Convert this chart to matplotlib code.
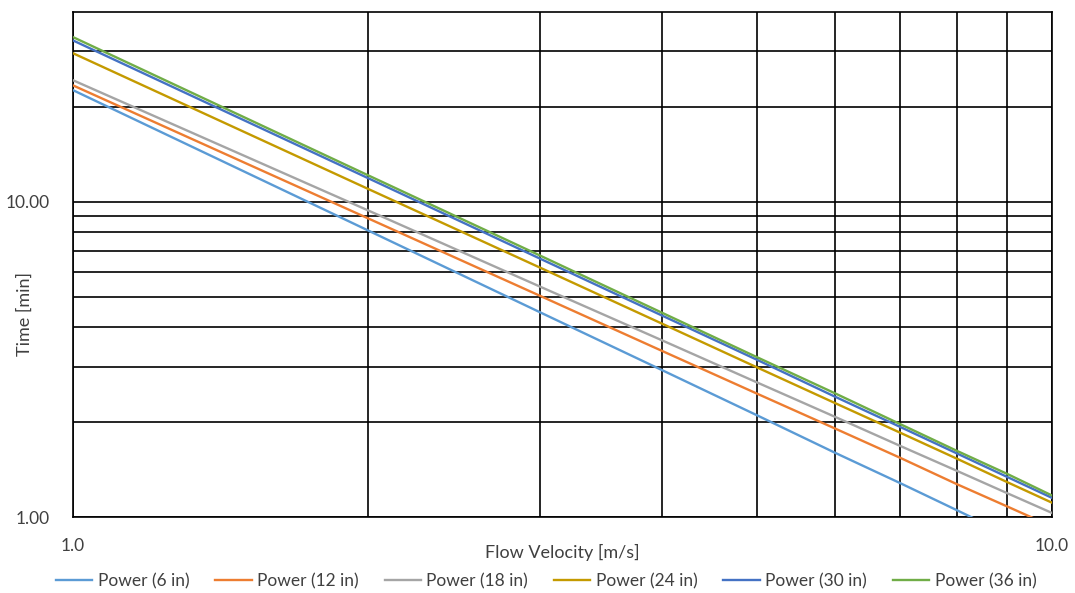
import matplotlib

matplotlib.use("Agg")
import matplotlib.pyplot as plt
from matplotlib.ticker import FixedLocator, FuncFormatter, NullFormatter

plt.rcParams["font.family"] = ["Lato", "DejaVu Sans"]

# flow velocity [m/s] sampled at the grid lines
velocity = [1, 2, 3, 4, 5, 6, 7, 8, 9, 10]

# time [min]
time_6in = [22.6, 8.12, 4.46, 2.92, 2.10, 1.60, 1.28, 1.05, 0.88, 0.753]
time_12in = [23.4, 8.87, 5.03, 3.36, 2.46, 1.91, 1.54, 1.27, 1.08, 0.933]
time_18in = [24.3, 9.40, 5.38, 3.63, 2.67, 2.08, 1.68, 1.40, 1.19, 1.03]
time_24in = [29.6, 11.0, 6.18, 4.10, 2.98, 2.30, 1.85, 1.53, 1.29, 1.11]
time_30in = [32.5, 11.9, 6.60, 4.35, 3.15, 2.41, 1.93, 1.59, 1.34, 1.15]
time_36in = [33.3, 12.15, 6.75, 4.44, 3.21, 2.47, 1.97, 1.62, 1.37, 1.17]

series = [
    ("Power (6 in)", time_6in, "#5B9BD5"),
    ("Power (12 in)", time_12in, "#ED7D31"),
    ("Power (18 in)", time_18in, "#A5A5A5"),
    ("Power (24 in)", time_24in, "#C49A00"),
    ("Power (30 in)", time_30in, "#4472C4"),
    ("Power (36 in)", time_36in, "#70AD47"),
]

fig = plt.figure(figsize=(10.75, 5.93), dpi=100)
ax = fig.add_axes([73 / 1075, 1 - 517 / 593, (1052 - 73) / 1075, (517 - 12) / 593])

for label, values, color in series:
    ax.plot(velocity, values, color=color, linewidth=1.7, label=label, zorder=3)

ax.set_xscale("log")
ax.set_yscale("log")
ax.set_xlim(1, 10)
ax.set_ylim(1, 40)

ax.xaxis.set_major_locator(FixedLocator([1, 10]))
ax.xaxis.set_minor_locator(FixedLocator(range(2, 10)))
ax.yaxis.set_major_locator(FixedLocator([1, 10]))
ax.yaxis.set_minor_locator(FixedLocator([2, 3, 4, 5, 6, 7, 8, 9, 20, 30]))
ax.xaxis.set_major_formatter(FuncFormatter(lambda v, _: f"{v:.1f}"))
ax.yaxis.set_major_formatter(FuncFormatter(lambda v, _: f"{v:.2f}"))
ax.xaxis.set_minor_formatter(NullFormatter())
ax.yaxis.set_minor_formatter(NullFormatter())

ax.grid(True, which="both", color="black", linewidth=1.2, zorder=1)
ax.tick_params(which="both", length=0, labelsize=12.5, colors="#404040")
ax.tick_params(axis="x", pad=15)
ax.tick_params(axis="y", pad=17)
for spine in ax.spines.values():
    spine.set_color("black")
    spine.set_linewidth(1.2)

ax.set_xlabel("Flow Velocity [m/s]", fontsize=13, color="#404040", labelpad=-7)
fig.text(25 / 1075, 1 - 314 / 593, "Time [min]", fontsize=13, color="#404040",
         rotation=90, ha="center", va="center")

fig.legend(
    loc="lower center",
    bbox_to_anchor=(0.508, -0.02),
    ncol=6,
    frameon=False,
    fontsize=12.5,
    handlelength=2.1,
    handletextpad=0.3,
    columnspacing=1.5,
    labelcolor="#404040",
)

fig.savefig("out.png", dpi=100)
